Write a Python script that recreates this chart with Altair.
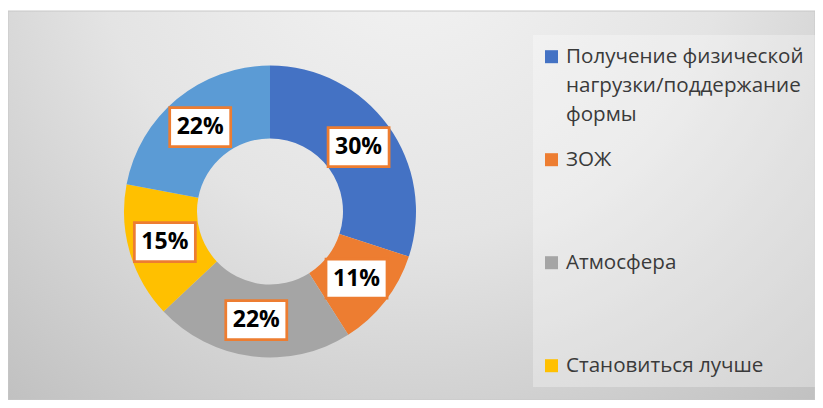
import altair as alt
import pandas as pd

# ---- data ----
categories = ["Получение физической нагрузки/поддержание формы", "ЗОЖ", "Атмосфера",
              "Становиться лучше", "Другое"]
values = [30, 11, 22, 15, 22]
colors = ["#4472C4", "#ED7D31", "#A5A5A5", "#FFC000", "#5B9BD5"]
legend_lines = [["Получение физической", "нагрузки/поддержание", "формы"],
                ["ЗОЖ"], ["Атмосфера"], ["Становиться лучше"]]

# ---- layout constants ----
W, H = 807, 389
CX, CY = 262, 200.5
R_IN, R_OUT = 73, 146
R_LAB = (R_IN + R_OUT) / 2
FONT = "Open Sans"

df = pd.DataFrame({"cat": categories, "value": values, "idx": list(range(len(values)))})

leg_rows = []
for i, lines in enumerate(legend_lines):
    for j, t in enumerate(lines):
        leg_rows.append({"cat": categories[i], "idx": i, "line": j, "text": t})
leg_df = pd.DataFrame(leg_rows)
leg_sq = leg_df[leg_df["line"] == 0]

one = pd.DataFrame({"a": [0]})

color_scale = alt.Scale(domain=categories, range=colors)

bg = alt.Chart(one).mark_rect(
    fill=alt.Gradient(
        gradient="radial",
        stops=[alt.GradientStop(color="#f4f4f4", offset=0),
               alt.GradientStop(color="#e4e4e4", offset=0.5),
               alt.GradientStop(color="#c0c0c0", offset=1)],
        x1=0.5, y1=0.15, r1=0, x2=0.5, y2=0.15, r2=0.78),
    stroke="#c8c8c8", strokeWidth=1,
).encode(x=alt.value(0), x2=alt.value(W), y=alt.value(0), y2=alt.value(H))

legend_box = alt.Chart(one).mark_rect(fill="white", opacity=0.3).encode(
    x=alt.value(525), x2=alt.value(W), y=alt.value(24), y2=alt.value(376))

arcs = alt.Chart(df).mark_arc(innerRadius=R_IN, outerRadius=R_OUT).encode(
    theta=alt.Theta("value:Q", stack=True),
    color=alt.Color("cat:N", scale=color_scale, legend=None),
    order=alt.Order("idx:Q"),
    x=alt.value(CX), y=alt.value(CY),
)

lab_base = alt.Chart(df).transform_window(
    cum="sum(value)", sort=[alt.SortField("idx")], frame=[None, 0]
).transform_joinaggregate(total="sum(value)").transform_calculate(
    mid="(datum.cum - datum.value/2) / datum.total * 2 * PI",
).transform_calculate(
    lx=f"{CX} + {R_LAB} * sin(datum.mid)",
    ly=f"{CY} - {R_LAB} * cos(datum.mid)",
    txt="datum.value + '%'",
)

lab_box = lab_base.mark_point(
    shape="M-1,-0.64L1,-0.64L1,0.64L-1,0.64Z", size=61 * 61, filled=True,
    fill="white", stroke="#ED7D31", strokeWidth=2.75, opacity=1,
).encode(x=alt.X("lx:Q", scale=None), y=alt.Y("ly:Q", scale=None))

lab_text = lab_base.mark_text(
    font=FONT, fontSize=23, fontWeight="bold", color="black", baseline="middle", align="center"
).encode(x=alt.X("lx:Q", scale=None), y=alt.Y("ly:Q", scale=None), text="txt:N")

leg_base = alt.Chart(leg_df).transform_calculate(
    ly="45.7 + 103 * datum.idx + 29 * datum.line"
)
leg_text = leg_base.mark_text(
    font=FONT, fontSize=20.6, color="#3a3a3a", align="left", baseline="middle"
).encode(x=alt.value(558), y=alt.Y("ly:Q", scale=None), text="text:N")

leg_symbols = alt.Chart(leg_sq).transform_calculate(
    ly="45.7 + 103 * datum.idx"
).mark_square(size=13 * 13, opacity=1).encode(
    x=alt.value(543.5), y=alt.Y("ly:Q", scale=None),
    color=alt.Color("cat:N", scale=color_scale, legend=None),
)

chart = alt.layer(bg, legend_box, arcs, lab_box, lab_text, leg_symbols, leg_text).properties(
    width=W, height=H,
    padding={"left": 0, "top": 3, "right": 0, "bottom": 0},
    autosize=alt.AutoSizeParams(type="none"),
).configure_view(stroke=None).configure(background="white")

chart.save("out.html", embed_options={"renderer": "svg", "actions": False})
